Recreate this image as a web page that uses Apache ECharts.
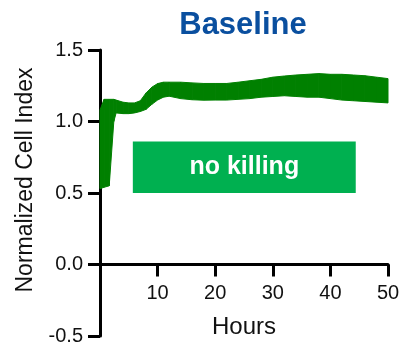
<!DOCTYPE html>
<html>
<head>
<meta charset="utf-8">
<script src="https://cdn.jsdelivr.net/npm/echarts@6/dist/echarts.min.js"></script>
<style>
  html, body { margin: 0; padding: 0; background: #fff; }
  #main { width: 400px; height: 347px; }
</style>
</head>
<body>
<div id="main"></div>
<script>
var hours = [0, 0.7, 1.6, 2.4, 2.8, 4, 5, 6, 7, 8, 9, 10, 11, 12, 14, 16, 18, 20, 22, 24, 26, 28, 30, 32, 34, 36, 38, 40, 42, 44, 46, 48, 50];
var lower = [0.53, 0.54, 0.55, 1.0, 1.06, 1.055, 1.055, 1.06, 1.07, 1.085, 1.12, 1.15, 1.17, 1.177, 1.16, 1.152, 1.149, 1.15, 1.15, 1.155, 1.16, 1.17, 1.175, 1.18, 1.175, 1.17, 1.17, 1.16, 1.15, 1.145, 1.14, 1.135, 1.13];
var upper = [1.08, 1.155, 1.155, 1.155, 1.15, 1.135, 1.13, 1.13, 1.145, 1.2, 1.24, 1.265, 1.275, 1.275, 1.275, 1.27, 1.266, 1.266, 1.266, 1.275, 1.285, 1.295, 1.31, 1.318, 1.325, 1.33, 1.335, 1.33, 1.33, 1.325, 1.32, 1.31, 1.3];
var boxX = [5.7, 44.4];
var boxY = [0.5, 0.86];
var boxText = 'no killing';

var font = "'Liberation Sans', Arial, sans-serif";
var bandColor = '#008000';
var chart = echarts.init(document.getElementById('main'));

var bandData = hours.map(function (h, i) { return [h, lower[i], upper[i]]; });

// one quad per segment, built from the axis scales
function renderBand(params, api) {
  var i = params.dataIndex;
  if (i >= hours.length - 1) return null;
  var pts = [
    api.coord([hours[i], lower[i]]),
    api.coord([hours[i + 1], lower[i + 1]]),
    api.coord([hours[i + 1], upper[i + 1]]),
    api.coord([hours[i], upper[i]])
  ];
  return {
    type: 'polygon',
    shape: { points: pts },
    style: { fill: bandColor, stroke: bandColor, lineWidth: 1 }
  };
}

var yMin = -0.5, yMax = 1.5;
var gridTop = 50, gridBottom = 11;
// x axis sits on y = 0, moved up from the grid bottom
var plotH = 347 - gridTop - gridBottom;
var xAxisOffset = -plotH * (0 - yMin) / (yMax - yMin);

var option = {
  animation: false,
  title: {
    text: 'Baseline',
    left: 238,
    textAlign: 'center',
    top: 5,
    textStyle: { color: '#0a4f9f', fontSize: 31, fontWeight: 'bold', fontFamily: font }
  },
  grid: { left: 100, right: 12, top: gridTop, bottom: gridBottom, outerBoundsMode: 'none', containLabel: false },
  xAxis: {
    type: 'value',
    min: 0, max: 50, interval: 10,
    offset: xAxisOffset,
    name: 'Hours',
    nameLocation: 'middle',
    nameGap: 51,
    nameTextStyle: { color: '#111', fontSize: 24, fontFamily: font },
    axisLine: { onZero: false, lineStyle: { color: '#000', width: 3 } },
    axisTick: { length: 12, lineStyle: { color: '#000', width: 3 } },
    axisLabel: {
      margin: 19, color: '#111', fontSize: 20, fontFamily: font,
      formatter: function (v) { return v === 0 ? '' : v; }
    },
    splitLine: { show: false }
  },
  yAxis: {
    type: 'value',
    min: yMin, max: yMax, interval: 0.5,
    name: 'Normalized Cell Index',
    nameLocation: 'middle',
    nameGap: 60,
    nameTextStyle: { color: '#111', fontSize: 23, fontFamily: font, padding: [0, 0, 0, 26] },
    axisLine: { show: true, lineStyle: { color: '#000', width: 3 } },
    axisTick: { show: true, length: 12, lineStyle: { color: '#000', width: 3 } },
    axisLabel: {
      margin: 17, color: '#111', fontSize: 20, fontFamily: font,
      formatter: function (v) { return v.toFixed(1); }
    },
    splitLine: { show: false }
  },
  series: [
    {
      name: 'band',
      type: 'custom',
      renderItem: renderBand,
      data: bandData,
      encode: { x: 0, y: [1, 2] },
      z: 3,
      markArea: {
        silent: true,
        z: 1,
        itemStyle: { color: '#00b050' },
        label: {
          show: true,
          position: 'inside',
          color: '#fff',
          fontSize: 25,
          fontWeight: 'bold',
          fontFamily: font
        },
        data: [[
          { name: boxText, coord: [boxX[0], boxY[1]] },
          { coord: [boxX[1], boxY[0]] }
        ]]
      }
    }
  ]
};

chart.setOption(option);
</script>
</body>
</html>
